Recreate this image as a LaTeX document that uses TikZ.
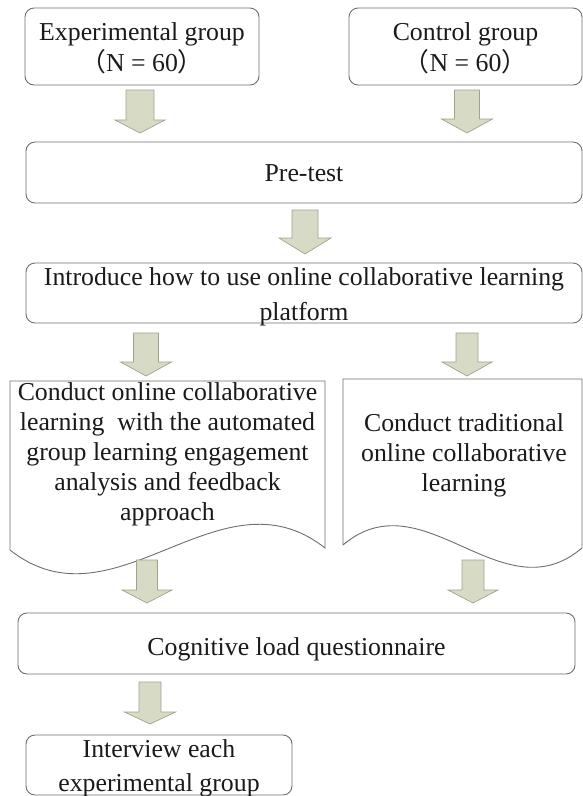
\documentclass[tikz,border=0pt]{standalone}
\usepackage{fontspec}
\setmainfont{Liberation Serif}
\newfontfamily\cjk{Noto Sans CJK SC}
\definecolor{edge}{HTML}{6E6E6E}
\definecolor{arrowfill}{HTML}{D7DBC6}
\definecolor{arrowedge}{HTML}{9FA38C}
\definecolor{ink}{HTML}{1A1A1A}
% fat down arrow: centre x, top y, head start y, tip y, shaft half width, head half width
\newcommand{\downblock}[6]{%
  \draw[arrowstyle] (#1-#5,#2) -- (#1+#5,#2) -- (#1+#5,#3) -- (#1+#6,#3)
    -- (#1,#4) -- (#1-#6,#3) -- (#1-#5,#3) -- cycle;}
\begin{document}
\begin{tikzpicture}[x=1pt,y=-1pt,
  every node/.style={text=ink,font=\fontsize{25.8}{31}\selectfont},
  box/.style={draw=edge,line width=0.9pt,rounded corners=9pt,inner sep=0pt},
  docshape/.style={draw=edge,line width=0.9pt},
  arrowstyle/.style={fill=arrowfill,draw=arrowedge,line width=0.7pt,line join=miter},
  label/.style={align=center,inner sep=0pt}]
\useasboundingbox (0,0) rectangle (583,796);

% group boxes
\node[box,minimum width=234pt,minimum height=77pt] (exp) at (142,46.5) {};
\node[label] at ([yshift=-2pt]exp.center)
  {Experimental group\\{\cjk （}N = 60{\cjk ）}};
\node[box,minimum width=233pt,minimum height=77pt] (ctrl) at (465.5,46.5) {};
\node[label] at ([yshift=-2pt]ctrl.center)
  {Control group\\{\cjk （}N = 60{\cjk ）}};

% pre-test and introduction
\node[box,minimum width=556pt,minimum height=61pt] (pre) at (304,172.5) {};
\node[label] at ([yshift=-1pt]pre.center) {Pre-test};
\node[box,minimum width=556pt,minimum height=60pt] (intro) at (304,293) {};
\node[label,font=\fontsize{25.8}{35}\selectfont] at ([yshift=-4pt]intro.center)
  {Introduce how to use online collaborative learning\\platform};

% document shapes with wavy bottoms
\draw[docshape] (10,550) -- (10,381) -- (325,381) -- (325,548)
  .. controls (220,465) and (115,633) .. (10,550);
\node[label,font=\fontsize{25.8}{30}\selectfont] (docA) at (167.5,454.5)
  {Conduct online collaborative\\learning\ \ with the automated\\group learning engagement\\analysis and feedback\\approach};
\draw[docshape] (343,545) -- (343,379) -- (582,379) -- (582,548)
  .. controls (502,616) and (423,477) .. (343,545);
\node[label,font=\fontsize{25.8}{30}\selectfont] (docB) at (464,455.5)
  {Conduct traditional\\online collaborative\\learning};

% questionnaire and interview
\node[box,minimum width=557pt,minimum height=61pt] (cog) at (296.5,643.5) {};
\node[label] at ([yshift=-6pt]cog.center) {Cognitive load questionnaire};
\node[box,minimum width=266pt,minimum height=60pt] (inter) at (159,765) {};
\node[label,font=\fontsize{25.8}{34}\selectfont] at ([yshift=-3pt]inter.center)
  {Interview each\\experimental group};

% flow arrows
\downblock{140}{90}{120}{133}{14}{25}
\downblock{467}{90}{119}{133}{12.5}{25.5}
\downblock{305}{210}{238}{254}{13}{26}
\downblock{146}{333}{362}{376}{12.5}{25.5}
\downblock{467}{333}{362}{376}{11}{25}
\downblock{147}{560}{590}{603}{10.5}{25}
\downblock{473}{560}{590}{603}{11}{25}
\downblock{150}{682}{712}{724}{11}{25.5}
\end{tikzpicture}
\end{document}
